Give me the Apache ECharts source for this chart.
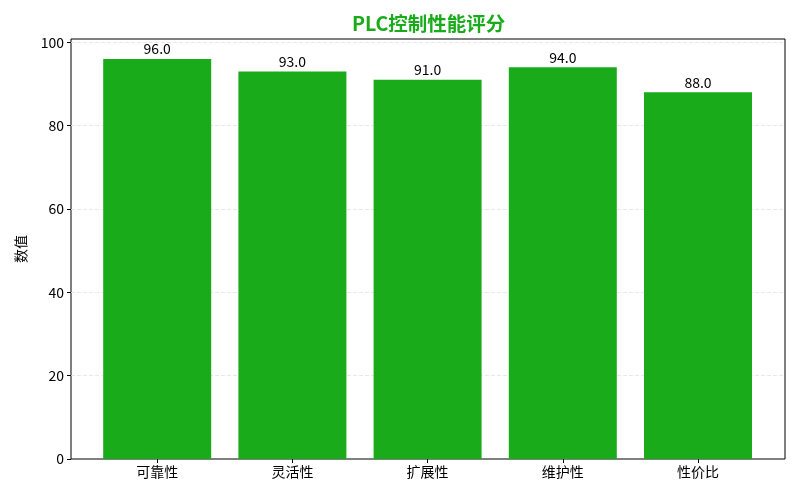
<!DOCTYPE html>
<html><head><meta charset="utf-8">
<script src="https://cdn.jsdelivr.net/npm/echarts@6/dist/echarts.min.js"></script>
<style>html,body{margin:0;padding:0;background:#fff}#c{width:800px;height:500px}</style>
</head><body><div id="c"></div>
<script>
const categories = ['可靠性', '灵活性', '扩展性', '维护性', '性价比'];
const scores = [96.0, 93.0, 91.0, 94.0, 88.0];
const yTicks = [0, 20, 40, 60, 80, 100];
const titleText = 'PLC控制性能评分';
const yName = '数值';

const FONT = '"Noto Sans CJK SC", "Noto Sans", sans-serif';
const YMAX = 100.8;
const GRID = '#e3e3e3';
const chart = echarts.init(document.getElementById('c'));
chart.setOption({
  animation: false,
  backgroundColor: '#fff',
  title: {
    text: titleText, left: 347, top: 9,
    textStyle: { color: '#1aab1a', fontSize: 19.5, fontWeight: 'bold', fontFamily: FONT }
  },
  grid: [
    { left: 71, right: 15, top: 39, bottom: 41, show: true, borderColor: '#000', borderWidth: 1, backgroundColor: 'transparent' },
    { left: 89.6, right: 34.4, top: 39, bottom: 41 }
  ],
  xAxis: [
    { gridIndex: 0, type: 'value', min: 0, max: 1, show: false },
    { gridIndex: 1, type: 'category', data: categories,
      axisLine: { show: false },
      axisTick: { show: true, alignWithLabel: true, length: 4, lineStyle: { color: '#000' } },
      axisLabel: { color: '#000', fontSize: 14, margin: 6, fontFamily: FONT },
      splitLine: { show: false } }
  ],
  yAxis: [
    { gridIndex: 0, type: 'value', min: 0, max: YMAX, interval: 20,
      name: yName, nameLocation: 'middle', nameGap: 43, nameRotate: 90,
      nameTextStyle: { color: '#000', fontSize: 14, fontFamily: FONT },
      axisLine: { show: false },
      axisTick: { show: true, length: 4, customValues: yTicks, lineStyle: { color: '#000' } },
      axisLabel: { color: '#000', fontSize: 14, margin: 7, fontFamily: FONT, customValues: yTicks,
        formatter: v => yTicks.includes(v) ? String(v) : '' },
      splitLine: { show: true, lineStyle: {
        color: ['rgba(0,0,0,0)', GRID, GRID, GRID, GRID, GRID, 'rgba(0,0,0,0)'],
        type: [4, 2], width: 0.8 } } },
    { gridIndex: 1, type: 'value', min: 0, max: YMAX, show: false, splitLine: { show: false } }
  ],
  series: [{
    type: 'bar', xAxisIndex: 1, yAxisIndex: 1, data: scores,
    barWidth: 108,
    itemStyle: { color: '#1aab1a' },
    label: { show: true, position: 'top', distance: 3, color: '#000', fontSize: 14, fontFamily: FONT,
      formatter: p => p.value.toFixed(1) }
  }]
});
</script></body></html>
